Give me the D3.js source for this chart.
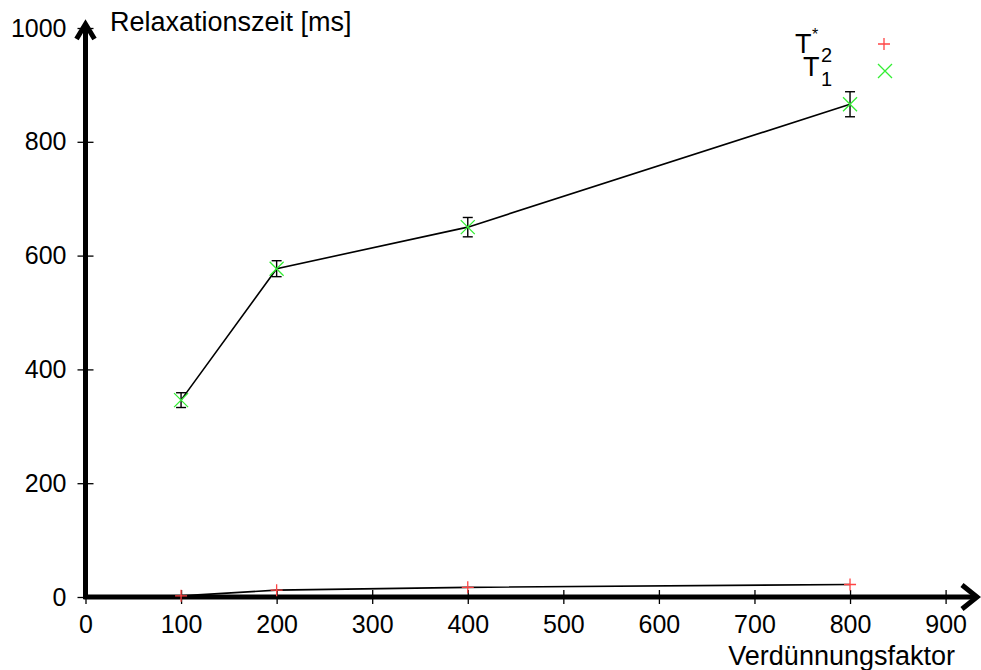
<!DOCTYPE html>
<html>
<head>
<meta charset="utf-8">
<script src="https://cdn.jsdelivr.net/npm/d3@7"></script>
<style>
  html, body { margin: 0; padding: 0; background: #fff; }
  svg { display: block; font-family: "Liberation Sans", Arial, Helvetica, sans-serif; }
</style>
</head>
<body>
<svg id="chart" width="981" height="670"></svg>
<script>
// Dilution factors and measured relaxation times
const dilution = [100, 200, 400, 800];
const t1Values = [346, 577, 650, 866];
const t1Errors = [13, 14, 17, 22];
const t2Values = [2, 12, 17, 22];
const xTicks = [0, 100, 200, 300, 400, 500, 600, 700, 800, 900];
const yTicks = [0, 200, 400, 600, 800, 1000];

const svg = d3.select("#chart");
const x = d3.scaleLinear().domain([0, 900]).range([85.5, 945.6]);
const y = d3.scaleLinear().domain([0, 1000]).range([597, 28]);

const t1 = dilution.map((d, i) => ({ x: d, y: t1Values[i], e: t1Errors[i] }));
const t2 = dilution.map((d, i) => ({ x: d, y: t2Values[i] }));

// Axes: thin ticks crossing the axis, heavy axis lines drawn separately
const xAxis = svg.append("g")
  .attr("transform", `translate(0,${y(0)})`)
  .call(d3.axisBottom(x).tickValues(xTicks).tickFormat(d3.format("d")).tickSize(0).tickPadding(18));
xAxis.select(".domain").remove();
xAxis.selectAll(".tick line").attr("y1", -7).attr("y2", 7).attr("stroke", "#000").attr("stroke-width", 1.3);
xAxis.selectAll(".tick text").attr("font-size", 25).attr("fill", "#000")
  .attr("font-family", "Liberation Sans, Arial, sans-serif");

const yAxis = svg.append("g")
  .attr("transform", `translate(${x(0)},0)`)
  .call(d3.axisLeft(y).tickValues(yTicks).tickFormat(d3.format("d")).tickSize(0).tickPadding(19));
yAxis.select(".domain").remove();
yAxis.selectAll(".tick line").attr("x1", -8).attr("x2", 8).attr("stroke", "#000").attr("stroke-width", 1.3);
yAxis.selectAll(".tick text").attr("font-size", 25).attr("fill", "#000")
  .attr("font-family", "Liberation Sans, Arial, sans-serif");

// Heavy axis lines with open arrowheads
function path(d) {
  return svg.append("path").attr("d", d)
    .attr("stroke", "#000").attr("stroke-width", 5).attr("fill", "none");
}
const x0 = x(0), y0 = y(0);
path(`M${x0 - 2},${y0} L976,${y0}`);
path(`M962,${y0 - 12} L977,${y0} L962,${y0 + 12}`);
path(`M${x0},${y0 + 2} L${x0},24`);
path(`M${x0 - 9},39 L${x0},24 L${x0 + 9},39`);

// Axis titles
svg.append("text").attr("x", 110).attr("y", 31).attr("font-size", 27).attr("fill", "#000")
  .text("Relaxationszeit [ms]");
svg.append("text").attr("x", 955).attr("y", 665).attr("font-size", 27).attr("fill", "#000")
  .attr("text-anchor", "end").text("Verdünnungsfaktor");

// Connecting lines
const line = d3.line().x(d => x(d.x)).y(d => y(d.y));
svg.append("path").datum(t1).attr("d", line).attr("fill", "none").attr("stroke", "#000").attr("stroke-width", 1.6);
svg.append("path").datum(t2).attr("d", line).attr("fill", "none").attr("stroke", "#000").attr("stroke-width", 1.6);

// Error bars for T1
const eb = svg.append("g").attr("stroke", "#000").attr("stroke-width", 1.4);
t1.forEach(d => {
  const cx = x(d.x), top = y(d.y + d.e), bot = y(d.y - d.e);
  eb.append("line").attr("x1", cx).attr("x2", cx).attr("y1", top).attr("y2", bot);
  eb.append("line").attr("x1", cx - 5).attr("x2", cx + 5).attr("y1", top).attr("y2", top);
  eb.append("line").attr("x1", cx - 5).attr("x2", cx + 5).attr("y1", bot).attr("y2", bot);
});

// Point markers
function cross(g, cx, cy, s, color) {
  g.append("path").attr("d", `M${cx - s},${cy - s}L${cx + s},${cy + s}M${cx - s},${cy + s}L${cx + s},${cy - s}`)
    .attr("stroke", color).attr("stroke-width", 1.3).attr("fill", "none");
}
function plus(g, cx, cy, s, color) {
  g.append("path").attr("d", `M${cx - s},${cy}L${cx + s},${cy}M${cx},${cy - s}L${cx},${cy + s}`)
    .attr("stroke", color).attr("stroke-width", 1.3).attr("fill", "none");
}
const marks = svg.append("g");
t1.forEach(d => cross(marks, x(d.x), y(d.y), 7, "#33ee33"));
t2.forEach(d => plus(marks, x(d.x), y(d.y), 6, "#ff4444"));

// Legend: T2* and T1 with raised/lowered indices, set as one text block
const lg = svg.append("g");
const lt = lg.append("text").attr("fill", "#000");
lt.append("tspan").attr("x", 795).attr("y", 53).attr("font-size", 27).text("T");
lt.append("tspan").attr("x", 812).attr("y", 40).attr("font-size", 16).text("*");
lt.append("tspan").attr("x", 821).attr("y", 62).attr("font-size", 20).text("2");
lt.append("tspan").attr("x", 803).attr("y", 76).attr("font-size", 27).text("T");
lt.append("tspan").attr("x", 821).attr("y", 86).attr("font-size", 20).text("1");
plus(lg, 884, 44, 6, "#ff4444");
cross(lg, 885, 71, 7, "#33ee33");
</script>
</body>
</html>
